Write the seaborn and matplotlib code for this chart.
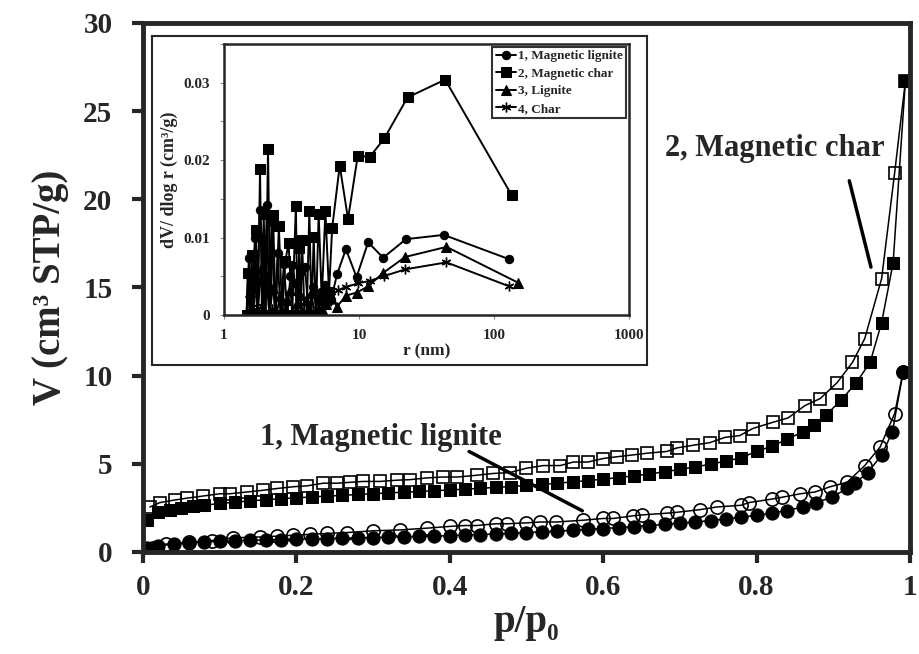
import matplotlib.pyplot as plt
import seaborn as sns

# main isotherms (p/p0, V in cm3 STP/g)
ml_ads_x = [0.005, 0.02, 0.04, 0.06, 0.08, 0.10, 0.12, 0.14, 0.16, 0.18, 0.20, 0.22, 0.24, 0.26, 0.28,
            0.30, 0.32, 0.34, 0.36, 0.38, 0.40, 0.42, 0.44, 0.46, 0.48, 0.50, 0.52, 0.54, 0.56, 0.58,
            0.60, 0.62, 0.64, 0.66, 0.68, 0.70, 0.72, 0.74, 0.76, 0.78, 0.80, 0.82, 0.84, 0.86, 0.878,
            0.898, 0.918, 0.928, 0.945, 0.963, 0.977, 0.991]
ml_ads_y = [0.2, 0.35, 0.45, 0.52, 0.57, 0.6, 0.63, 0.66, 0.68, 0.7, 0.72, 0.74, 0.76, 0.78, 0.8,
            0.82, 0.84, 0.86, 0.88, 0.9, 0.93, 0.96, 0.99, 1.02, 1.06, 1.1, 1.14, 1.18, 1.23, 1.28,
            1.33, 1.38, 1.44, 1.5, 1.56, 1.63, 1.7, 1.78, 1.87, 1.97, 2.08, 2.2, 2.35, 2.55, 2.8,
            3.1, 3.6, 3.9, 4.5, 5.5, 6.8, 10.2]
ml_des_x = [0.013, 0.03, 0.06, 0.09, 0.117, 0.152, 0.175, 0.196, 0.218, 0.24, 0.266, 0.30, 0.335, 0.37,
            0.40, 0.42, 0.435, 0.46, 0.475, 0.50, 0.518, 0.539, 0.574, 0.60, 0.613, 0.639, 0.65, 0.683,
            0.696, 0.726, 0.748, 0.78, 0.79, 0.82, 0.833, 0.857, 0.876, 0.896, 0.918, 0.941, 0.961,
            0.98, 0.991]
ml_des_y = [0.25, 0.45, 0.55, 0.65, 0.8, 0.85, 0.9, 0.95, 1.0, 1.05, 1.1, 1.2, 1.25, 1.35,
            1.45, 1.5, 1.5, 1.6, 1.6, 1.65, 1.7, 1.7, 1.8, 1.9, 1.9, 2.05, 2.1, 2.2,
            2.25, 2.4, 2.55, 2.65, 2.8, 3.0, 3.1, 3.3, 3.4, 3.7, 3.95, 4.9, 5.95,
            7.85, 10.2]
mc_ads_x = [0.005, 0.02, 0.035, 0.05, 0.065, 0.08, 0.10, 0.12, 0.14, 0.16, 0.18, 0.20, 0.22, 0.24,
            0.26, 0.28, 0.30, 0.32, 0.34, 0.36, 0.38, 0.40, 0.42, 0.44, 0.46, 0.48, 0.50, 0.52, 0.54,
            0.56, 0.58, 0.60, 0.62, 0.64, 0.66, 0.68, 0.70, 0.72, 0.74, 0.76, 0.78, 0.80, 0.82, 0.84,
            0.86, 0.875, 0.89, 0.91, 0.93, 0.948, 0.963, 0.978, 0.994]
mc_ads_y = [1.8, 2.25, 2.4, 2.5, 2.58, 2.65, 2.75, 2.82, 2.9, 2.96, 3.02, 3.07, 3.12, 3.17,
            3.21, 3.26, 3.3, 3.35, 3.39, 3.43, 3.47, 3.52, 3.56, 3.61, 3.66, 3.71, 3.77, 3.83, 3.9,
            3.97, 4.05, 4.13, 4.22, 4.32, 4.42, 4.55, 4.68, 4.82, 4.98, 5.15, 5.35, 5.7, 6.0, 6.4,
            6.8, 7.2, 7.75, 8.6, 9.6, 10.75, 13.0, 16.4, 26.7]
mc_des_x = [0.009, 0.022, 0.042, 0.057, 0.078, 0.10, 0.113, 0.135, 0.157, 0.175, 0.196, 0.214, 0.235,
            0.253, 0.27, 0.287, 0.309, 0.331, 0.348, 0.37, 0.391, 0.41, 0.435, 0.456, 0.478, 0.50,
            0.522, 0.544, 0.561, 0.58, 0.60, 0.618, 0.638, 0.657, 0.683, 0.696, 0.717, 0.739, 0.759,
            0.778, 0.795, 0.821, 0.841, 0.863, 0.883, 0.905, 0.925, 0.941, 0.963, 0.98, 0.994]
mc_des_y = [2.55, 2.8, 2.95, 3.05, 3.17, 3.3, 3.3, 3.4, 3.5, 3.6, 3.7, 3.75, 3.9,
            3.9, 3.95, 4.0, 4.0, 4.07, 4.1, 4.2, 4.25, 4.25, 4.35, 4.45, 4.5, 4.75,
            4.9, 4.9, 5.1, 5.1, 5.3, 5.4, 5.5, 5.6, 5.7, 5.9, 6.05, 6.2, 6.5,
            6.6, 7.0, 7.35, 7.6, 8.3, 8.7, 9.6, 10.75, 12.1, 15.5, 21.5, 26.7]

# inset pore size distributions (r in nm, dV/dlog r in cm3/g)
sq_r = [1.47, 1.50, 1.55, 1.60, 1.66, 1.72, 1.78, 1.85, 1.91, 1.97, 2.04, 2.12, 2.20, 2.31, 2.42,
        2.55, 2.70, 2.85, 3.01, 3.20, 3.41, 3.50, 3.61, 3.70, 3.79, 3.95, 4.10, 4.29, 4.45, 4.62,
        4.80, 5.03, 5.30, 5.64, 6.00, 6.33, 7.2, 8.3, 9.8, 12.0, 15.4, 22.9, 43.5, 135]
sq_dv = [0, 0.0054, 0, 0.0078, 0, 0.0110, 0, 0.0188, 0, 0.0130, 0, 0.0215, 0, 0.0129, 0,
         0.0115, 0, 0.0070, 0.0093, 0, 0.0141, 0, 0.0087, 0, 0.0097, 0, 0, 0.0134, 0, 0.0101,
         0, 0.0131, 0.0020, 0.0134, 0.0030, 0.0112, 0.0193, 0.0124, 0.0206, 0.0204, 0.0228, 0.0281,
         0.0304, 0.0155]
ci_r = [1.47, 1.53, 1.58, 1.63, 1.70, 1.76, 1.84, 1.91, 1.98, 2.08, 2.16, 2.25, 2.38, 2.50, 2.62,
        2.78, 2.95, 3.10, 3.20, 3.36, 3.50, 3.70, 3.98, 4.25, 4.56, 4.90, 5.20, 5.60, 6.2, 6.9,
        8.0, 9.6, 11.7, 15.1, 22.3, 42.5, 130]
ci_dv = [0, 0.0074, 0, 0.0050, 0.0099, 0, 0.0136, 0.0100, 0, 0.0142, 0, 0.0120, 0, 0.0080, 0,
         0.0066, 0, 0.0050, 0.0065, 0.0041, 0, 0.0055, 0.0062, 0, 0.0036, 0, 0.0030, 0.0039,
         0.0020, 0.0053, 0.0085, 0.0049, 0.0094, 0.0074, 0.0098, 0.01035, 0.0072]
tr_r = [1.47, 1.55, 1.62, 1.70, 1.78, 1.87, 1.96, 2.06, 2.17, 2.30, 2.45, 2.60, 2.78, 2.95, 3.10,
        3.30, 3.50, 3.66, 3.85, 4.05, 4.25, 4.45, 4.70, 5.0, 5.3, 5.7, 6.2, 6.9, 8.0, 9.6,
        11.7, 15.0, 22.0, 44.5, 150]
tr_dv = [0, 0.0030, 0, 0.0045, 0, 0.0060, 0, 0.0050, 0, 0.0035, 0, 0.0025, 0, 0.0020, 0.0032,
         0, 0.0015, 0.0026, 0, 0.0020, 0, 0.0028, 0, 0, 0.0008, 0.0014, 0.0022, 0.0011, 0.0025,
         0.0029, 0.0037, 0.0054, 0.0075, 0.0088, 0.0042]
st_r = [1.47, 1.60, 1.75, 1.90, 2.05, 2.25, 2.50, 2.80, 3.10, 3.50, 3.90, 4.30, 4.70, 5.0, 5.3,
        5.8, 6.2, 7.0, 8.0, 9.8, 12.0, 15.2, 22.0, 44.5, 130]
st_dv = [0, 0.0010, 0, 0.0012, 0, 0.0008, 0, 0.0005, 0, 0.0004, 0, 0.0003, 0, 0.0008, 0.0016,
         0.0015, 0.0025, 0.0032, 0.0036, 0.0041, 0.0044, 0.0050, 0.0059, 0.0068, 0.0037]
inset_labels = ["1, Magnetic lignite", "2, Magnetic char", "3, Lignite", "4, Char"]

sns.set_style("ticks")
plt.rcParams['font.family'] = ['Liberation Serif', 'DejaVu Serif']
plt.rcParams['font.weight'] = 'bold'
plt.rcParams['axes.labelweight'] = 'bold'

fig = plt.figure(figsize=(9.19, 6.54), dpi=100)
ax = fig.add_axes([0.1556, 0.156, 0.8346, 0.809])

kw = dict(estimator=None, sort=False, color="black", linewidth=1.1, ax=ax)
sns.lineplot(x=ml_ads_x, y=ml_ads_y, marker="o", markersize=9.5, markerfacecolor="black",
             markeredgecolor="black", **kw)
sns.lineplot(x=ml_des_x, y=ml_des_y, marker="o", markersize=9.5, markerfacecolor="none",
             markeredgecolor="black", markeredgewidth=1.2, **kw)
sns.lineplot(x=mc_ads_x, y=mc_ads_y, marker="s", markersize=8.5, markerfacecolor="black",
             markeredgecolor="black", **kw)
sns.lineplot(x=mc_des_x, y=mc_des_y, marker="s", markersize=8.5, markerfacecolor="none",
             markeredgecolor="black", markeredgewidth=1.2, **kw)

ax.set_xlim(0, 1)
ax.set_ylim(0, 30)
ax.set_xticks([0, 0.2, 0.4, 0.6, 0.8, 1])
ax.set_xticklabels(["0", "0.2", "0.4", "0.6", "0.8", "1"])
ax.set_yticks([0, 5, 10, 15, 20, 25, 30])
ax.tick_params(direction="out", length=8, width=3, labelsize=21, pad=8)
ax.tick_params(axis="y", pad=14)
for s in ax.spines.values():
    s.set_linewidth(3.5)
ax.set_xlabel("p/p₀", fontsize=28, fontweight="bold", labelpad=2)
ax.set_ylabel("V (cm³ STP/g)", fontsize=28, fontweight="bold", labelpad=10)

ax.text(0.31, 6.5, "1, Magnetic lignite", fontsize=22, fontweight="bold", ha="center", va="center")
ax.annotate("", xy=(0.576, 2.26), xytext=(0.422, 5.77),
            arrowprops=dict(arrowstyle="-", lw=2.5, color="black"))
ax.text(0.824, 22.9, "2, Magnetic char", fontsize=22, fontweight="bold", ha="center", va="center")
ax.annotate("", xy=(0.95, 16.0), xytext=(0.92, 21.2),
            arrowprops=dict(arrowstyle="-", lw=2.5, color="black"))

# inset frame and inset plot
frame = fig.add_axes([0.1654, 0.4419, 0.5386, 0.503])
frame.set_xticks([])
frame.set_yticks([])
frame.set_facecolor("white")
for s in frame.spines.values():
    s.set_linewidth(1.5)

ins = fig.add_axes([0.2437, 0.5183, 0.4407, 0.4144])
ikw = dict(estimator=None, sort=False, color="black", linewidth=1.4, markeredgecolor="black",
           markerfacecolor="black", ax=ins)
sns.lineplot(x=ci_r, y=ci_dv, marker="o", markersize=6, label=inset_labels[0], **ikw)
sns.lineplot(x=sq_r, y=sq_dv, marker="s", markersize=6.5, label=inset_labels[1], **ikw)
sns.lineplot(x=tr_r, y=tr_dv, marker="^", markersize=6.5, label=inset_labels[2], **ikw)
sns.lineplot(x=st_r, y=st_dv, marker=(6, 2, 0), markersize=7, markeredgewidth=1,
             label=inset_labels[3], **ikw)

ins.set_xscale("log")
ins.set_xlim(1, 1000)
ins.set_ylim(0, 0.035)
ins.set_xticks([1, 10, 100, 1000])
ins.set_xticklabels(["1", "10", "100", "1000"])
ins.set_yticks([0, 0.01, 0.02, 0.03])
ins.set_yticklabels(["0", "0.01", "0.02", "0.03"])
ins.set_yticks([0.005, 0.015, 0.025, 0.035], minor=True)
ins.xaxis.set_minor_locator(plt.NullLocator())
ins.tick_params(which="both", direction="out", length=3, width=0.8, labelsize=11, pad=7,
                color="#888888")
for s in ins.spines.values():
    s.set_linewidth(1.8)
ins.set_xlabel("r (nm)", fontsize=12.5, fontweight="bold", labelpad=1)
ins.set_ylabel("dV/ dlog r (cm³/g)", fontsize=13, fontweight="bold", labelpad=4)
leg = ins.legend(loc="upper right", fontsize=9.5, frameon=True, fancybox=False, edgecolor="black",
                 handlelength=1.5, handletextpad=0.2, borderpad=0.25, labelspacing=0.4,
                 borderaxespad=0.2)
leg.get_frame().set_linewidth(1.5)

fig.savefig("out.png", dpi=100)
plt.close()
